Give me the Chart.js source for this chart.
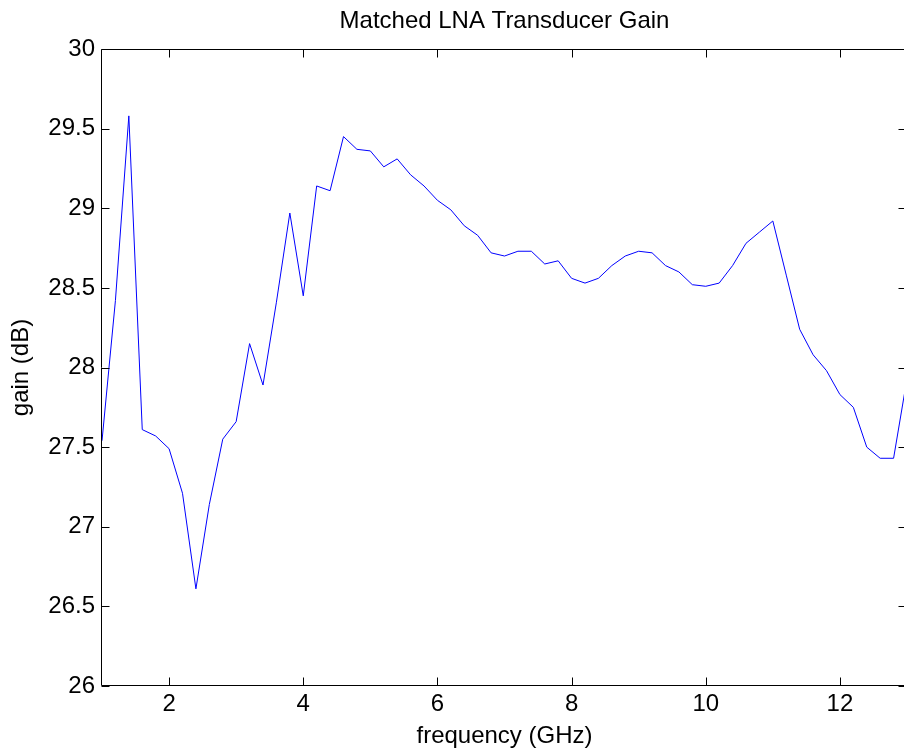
<!DOCTYPE html>
<html>
<head>
<meta charset="utf-8">
<title>Matched LNA Transducer Gain</title>
<script src="https://cdn.jsdelivr.net/npm/chart.js@4.4.1/dist/chart.umd.min.js"></script>
<style>
  html, body { margin: 0; padding: 0; background: #fff; overflow: hidden; }
  #wrap { position: absolute; left: 0; top: 0; width: 912px; height: 755px; }
</style>
</head>
<body>
<div id="wrap"><canvas id="chart"></canvas></div>
<script>
// Frequency sweep (GHz)
const frequency = [
  1.0, 1.2, 1.4, 1.6, 1.8, 2.0, 2.2, 2.4, 2.6, 2.8,
  3.0, 3.2, 3.4, 3.6, 3.8, 4.0, 4.2, 4.4, 4.6, 4.8,
  5.0, 5.2, 5.4, 5.6, 5.8, 6.0, 6.2, 6.4, 6.6, 6.8,
  7.0, 7.2, 7.4, 7.6, 7.8, 8.0, 8.2, 8.4, 8.6, 8.8,
  9.0, 9.2, 9.4, 9.6, 9.8, 10.0, 10.2, 10.4, 10.6, 10.8,
  11.0, 11.2, 11.4, 11.6, 11.8, 12.0, 12.2, 12.4, 12.6, 12.8,
  13.0
];

// Transducer gain (dB)
const gain = [
  27.54, 28.42, 29.58, 27.61, 27.57, 27.49, 27.21, 26.61, 27.14, 27.55,
  27.66, 28.15, 27.89, 28.41, 28.97, 28.45, 29.14, 29.11, 29.45, 29.37,
  29.36, 29.26, 29.31, 29.21, 29.14, 29.05, 28.99, 28.89, 28.83, 28.72,
  28.70, 28.73, 28.73, 28.65, 28.67, 28.56, 28.53, 28.56, 28.64, 28.70,
  28.73, 28.72, 28.64, 28.60, 28.52, 28.51, 28.53, 28.64, 28.78, 28.85,
  28.92, 28.58, 28.24, 28.08, 27.98, 27.83, 27.75, 27.50, 27.43, 27.43,
  27.93
];

// Axis ticks
const xTicks = [2, 4, 6, 8, 10, 12];
const yTicks = [26, 26.5, 27, 27.5, 28, 28.5, 29, 29.5, 30];

const FONT = "'Liberation Sans', Arial, Helvetica, sans-serif";

// Box around the plot area with inward tick marks on all four sides
const framePlugin = {
  id: 'frame',
  afterDraw(chart) {
    const { ctx, chartArea: a, scales } = chart;
    const L = Math.round(a.left) - 0.5;
    const R = Math.round(a.right) - 0.5;
    const T = Math.round(a.top) + 0.5;
    const B = Math.round(a.bottom) - 0.5;
    const len = 8;
    ctx.save();
    ctx.strokeStyle = '#000';
    ctx.lineWidth = 1;
    ctx.beginPath();
    ctx.rect(L, T, R - L, B - T);
    scales.x.ticks.forEach(t => {
      const px = Math.round(scales.x.getPixelForValue(t.value)) + 0.5;
      ctx.moveTo(px, B); ctx.lineTo(px, B - len);
      ctx.moveTo(px, T); ctx.lineTo(px, T + len);
    });
    scales.y.ticks.forEach(t => {
      const py = Math.round(scales.y.getPixelForValue(t.value)) + 0.5;
      ctx.moveTo(L, py); ctx.lineTo(L + len, py);
      ctx.moveTo(R, py); ctx.lineTo(R - len, py);
    });
    ctx.stroke();
    ctx.restore();
  }
};

new Chart(document.getElementById('chart'), {
  type: 'scatter',
  data: {
    datasets: [{
      data: frequency.map((f, i) => ({ x: f, y: gain[i] })),
      showLine: true,
      borderColor: '#0000ff',
      backgroundColor: '#0000ff',
      borderWidth: 1,
      pointRadius: 0,
      tension: 0
    }]
  },
  plugins: [framePlugin],
  options: {
    responsive: true,
    maintainAspectRatio: false,
    devicePixelRatio: 1,
    animation: false,
    layout: { padding: { left: 0, right: 5, top: 0, bottom: 0 } },
    plugins: {
      legend: { display: false },
      tooltip: { enabled: false },
      title: {
        display: true,
        text: 'Matched LNA Transducer Gain',
        fullSize: false,
        color: '#000',
        font: { family: FONT, size: 24, weight: 'normal', lineHeight: 1.2 },
        padding: { top: 6.6, bottom: 13.6 }
      }
    },
    scales: {
      x: {
        type: 'linear',
        min: 1,
        max: 13,
        afterBuildTicks: s => { s.ticks = xTicks.map(v => ({ value: v })); },
        afterFit: s => { s.height = 69; },
        grid: { display: false, drawTicks: false },
        border: { display: false },
        ticks: {
          color: '#000',
          padding: 4,
          maxRotation: 0,
          font: { family: FONT, size: 24 },
          callback: v => String(v)
        },
        title: {
          display: true,
          text: 'frequency (GHz)',
          color: '#000',
          font: { family: FONT, size: 24 },
          padding: { top: 0, bottom: 4.5 }
        }
      },
      y: {
        type: 'linear',
        min: 26,
        max: 30,
        afterBuildTicks: s => { s.ticks = yTicks.map(v => ({ value: v })); },
        afterFit: s => { s.width = 102; },
        grid: { display: false, drawTicks: false },
        border: { display: false },
        ticks: {
          color: '#000',
          padding: 7,
          font: { family: FONT, size: 24 },
          callback: v => String(v)
        },
        title: {
          display: true,
          text: 'gain (dB)',
          color: '#000',
          font: { family: FONT, size: 24 },
          padding: { top: 7.3, bottom: 0 }
        }
      }
    }
  }
});
</script>
</body>
</html>
